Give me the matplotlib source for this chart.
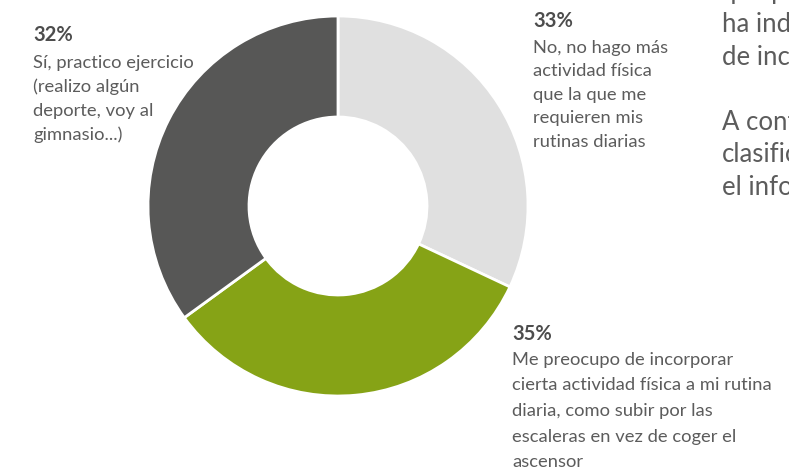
import matplotlib
matplotlib.use("Agg")
import matplotlib.pyplot as plt

# Data
categories = [
    "No, no hago más\nactividad física\nque la que me\nrequieren mis\nrutinas diarias",
    "Me preocupo de incorporar\ncierta actividad física a mi rutina\ndiaria, como subir por las\nescaleras en vez de coger el\nascensor",
    "Sí, practico ejercicio\n(realizo algún\ndeporte, voy al\ngimnasio...)",
]
pct_labels = ["33%", "35%", "32%"]
# arc shares as drawn in the picture
slice_values = [32, 33, 35]
colors = ["#e0e0e0", "#86a316", "#575756"]

side_text = ["que p", "ha indi", "de inco", "", "A cont", "clasific", "el infor"]

W, H = 789, 469
fig = plt.figure(figsize=(W / 100, H / 100), dpi=100)
plt.rcParams['font.family'] = ['Lato', 'DejaVu Sans']

cx, cy, R, r = 338, 206, 190, 89
ax = fig.add_axes([(cx - R) / W, (H - cy - R) / H, 2 * R / W, 2 * R / H])
ax.pie(slice_values, colors=colors, startangle=90, counterclock=False, radius=1,
       wedgeprops=dict(width=1 - r / R, edgecolor="white", linewidth=2))
ax.set_xlim(-1, 1)
ax.set_ylim(-1, 1)
ax.set_aspect("equal")
ax.axis("off")

def px(x, y):
    return x / W, 1 - y / H

text_col = "#5c5c5c"
pct_col = "#4d4d4d"

# label positions (pixels): pct baseline, first body baseline, line spacing
label_pos = [(533, 27, 53, 23.5), (512, 340, 365, 25.5), (33, 41, 68, 24)]
for (x, yb, y0, sp), pct, cat in zip(label_pos, pct_labels, categories):
    fig.text(*px(x, yb), pct, fontsize=14.5, fontweight="bold", color=pct_col, va="baseline")
    for i, line in enumerate(cat.split("\n")):
        fig.text(*px(x, y0 + i * sp), line, fontsize=13.2, color=text_col, va="baseline")

for i, line in enumerate(side_text):
    if line:
        fig.text(*px(722, -1.5 + i * 32.5 + (1.5 if i else 0)), line, fontsize=18.5,
                 color=text_col, va="baseline")

fig.savefig("out.png", dpi=100)
